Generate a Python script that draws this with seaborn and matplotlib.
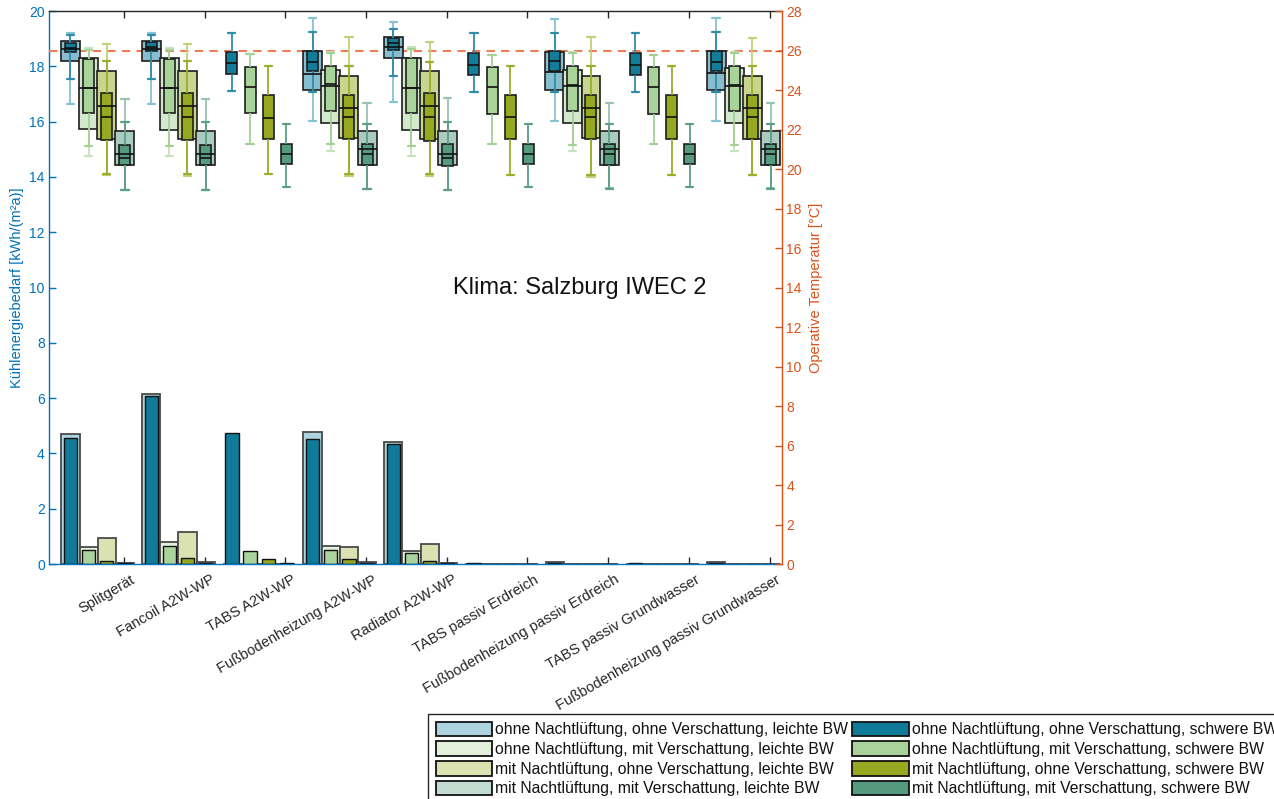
import numpy as np
import pandas as pd
import matplotlib
matplotlib.use("Agg")
import matplotlib.pyplot as plt
import matplotlib.transforms as mtransforms
import seaborn as sns
from matplotlib.patches import Patch

# ---------------- data ----------------
categories = ["Splitgerät", "Fancoil A2W-WP", "TABS A2W-WP", "Fußbodenheizung A2W-WP",
              "Radiator A2W-WP", "TABS passiv Erdreich", "Fußbodenheizung passiv Erdreich",
              "TABS passiv Grundwasser", "Fußbodenheizung passiv Grundwasser"]

labels_L = ["ohne Nachtlüftung, ohne Verschattung, leichte BW",
            "ohne Nachtlüftung, mit Verschattung, leichte BW",
            "mit Nachtlüftung, ohne Verschattung, leichte BW",
            "mit Nachtlüftung, mit Verschattung, leichte BW"]
labels_S = ["ohne Nachtlüftung, ohne Verschattung, schwere BW",
            "ohne Nachtlüftung, mit Verschattung, schwere BW",
            "mit Nachtlüftung, ohne Verschattung, schwere BW",
            "mit Nachtlüftung, mit Verschattung, schwere BW"]

# cooling energy demand [kWh/(m²a)]
bar_L1 = [4.69, 6.15, 0.00, 4.78, 4.42, 0.00, 0.07, 0.00, 0.08]
bar_L2 = [0.60, 0.78, 0.00, 0.65, 0.48, 0.00, 0.00, 0.00, 0.00]
bar_L3 = [0.95, 1.15, 0.00, 0.60, 0.71, 0.00, 0.00, 0.00, 0.00]
bar_L4 = [0.04, 0.06, 0.00, 0.06, 0.04, 0.00, 0.00, 0.00, 0.00]
bar_S1 = [4.55, 6.08, 4.73, 4.53, 4.33, 0.05, 0.05, 0.05, 0.05]
bar_S2 = [0.51, 0.65, 0.48, 0.51, 0.39, 0.00, 0.00, 0.00, 0.00]
bar_S3 = [0.12, 0.21, 0.18, 0.17, 0.12, 0.00, 0.00, 0.00, 0.00]
bar_S4 = [0.02, 0.04, 0.03, 0.03, 0.03, 0.00, 0.00, 0.00, 0.00]

# operative temperature [°C]: whisker low, Q1, median, Q3, whisker high
box_L1 = [[23.3, 25.49, 26.1, 26.47, 26.87], [23.3, 25.49, 26.1, 26.47, 26.87], None,
          [22.41, 24.01, 24.82, 25.96, 27.63], [23.38, 25.62, 26.2, 26.70, 27.46], None,
          [22.41, 24.01, 24.9, 25.91, 27.60], None, [22.41, 24.01, 24.85, 25.96, 27.63]]
box_L2 = [[20.66, 22.04, 24.1, 25.61, 26.13], [20.66, 21.98, 24.1, 25.61, 26.13], None,
          [20.89, 22.32, 24.2, 25.02, 25.91], [20.66, 22.0, 24.1, 25.61, 26.16], None,
          [20.89, 22.32, 24.2, 25.02, 25.91], None, [20.89, 22.32, 24.2, 25.10, 25.91]]
box_L3 = [[19.68, 21.53, 23.21, 24.95, 26.33], [19.65, 21.50, 23.21, 24.95, 26.33], None,
          [19.63, 21.57, 23.10, 24.73, 26.70], [19.63, 21.50, 23.20, 24.95, 26.42], None,
          [19.58, 21.57, 23.08, 24.70, 26.70], None, [19.68, 21.53, 23.08, 24.70, 26.65]]
box_L4 = [[18.92, 20.22, 20.77, 21.92, 23.55], [18.95, 20.18, 20.77, 21.92, 23.55], None,
          [19.00, 20.22, 20.99, 21.92, 23.35], [18.92, 20.18, 20.77, 21.90, 23.59], None,
          [19.04, 20.22, 20.99, 21.92, 23.33], None, [19.04, 20.22, 20.99, 21.92, 23.33]]
box_S1 = [[24.56, 25.91, 26.13, 26.38, 26.79], [24.56, 25.95, 26.2, 26.42, 26.79],
          [23.97, 24.82, 25.36, 25.91, 26.87], [23.90, 24.95, 25.41, 25.96, 26.92],
          [24.73, 26.04, 26.37, 26.62, 27.09], [23.89, 24.77, 25.29, 25.89, 26.87],
          [23.90, 24.95, 25.46, 25.96, 26.89], [23.89, 24.77, 25.29, 25.89, 26.87],
          [23.90, 24.95, 25.41, 25.96, 26.92]]
box_S2 = [[21.14, 22.83, 24.11, 25.57, 26.05], [21.14, 22.83, 24.11, 25.57, 26.05],
          [21.28, 22.83, 24.14, 25.15, 25.83], [21.28, 22.96, 24.31, 25.19, 25.85],
          [21.14, 22.84, 24.11, 25.61, 26.10], [21.28, 22.79, 24.14, 25.15, 25.79],
          [21.24, 22.96, 24.27, 25.19, 25.85], [21.28, 22.79, 24.14, 25.15, 25.79],
          [21.24, 22.96, 24.27, 25.19, 25.85]]
box_S3 = [[19.76, 21.45, 22.63, 23.85, 25.46], [19.76, 21.45, 22.63, 23.85, 25.46],
          [19.73, 21.53, 22.59, 23.75, 25.19], [19.73, 21.53, 22.63, 23.75, 25.20],
          [19.73, 21.41, 22.63, 23.85, 25.44], [19.68, 21.53, 22.63, 23.75, 25.20],
          [19.71, 21.53, 22.63, 23.75, 25.20], [19.71, 21.53, 22.63, 23.75, 25.20],
          [19.71, 21.53, 22.63, 23.75, 25.20]]
box_S4 = [[18.92, 20.18, 20.55, 21.24, 22.37], [18.92, 20.18, 20.55, 21.24, 22.37],
          [19.09, 20.27, 20.77, 21.29, 22.29], [19.00, 20.22, 20.74, 21.26, 22.29],
          [18.92, 20.15, 20.55, 21.26, 22.37], [19.09, 20.27, 20.77, 21.28, 22.29],
          [19.00, 20.22, 20.74, 21.26, 22.29], [19.09, 20.27, 20.77, 21.28, 22.29],
          [19.00, 20.22, 20.74, 21.26, 22.29]]

comfort_limit = 26

# ---------------- style ----------------
bar_col_L = ["#acd3de", "#e3f0dc", "#dae2b1", "#c3dcd2"]
bar_col_S = ["#0f7b98", "#a9d39b", "#95a820", "#559a7e"]
box_col_L = ["#88bdcf", "#d3e8cc", "#c8d58e", "#aacbbf"]
box_col_S = ["#137c98", "#a8d49a", "#95a81f", "#559b7d"]
wh_col_L = ["#86c2d4", "#c6e3bd", "#bfd27a", "#97c3b3"]
wh_col_S = ["#2f8da8", "#a3d095", "#9aae2c", "#5d9f83"]
LEFT_C = "#0072BD"
RIGHT_C = "#D95319"
DARK = "#262626"

sns.set_theme(style="white")
plt.rcParams["font.family"] = ["Liberation Sans", "DejaVu Sans"]

fig = plt.figure(figsize=(12.74, 7.99), dpi=100)
ax = fig.add_axes([49 / 1274, 1 - 564 / 799, (782 - 49) / 1274, (564 - 11) / 799])
ax2 = ax.twinx()

ticks = np.arange(1, len(categories) + 1)
slot_offset = [-0.663, -0.438, -0.213, 0.012]


def draw_bars(vals, slot, color, width, edge, lw):
    df = pd.DataFrame({"x": ticks + slot_offset[slot], "y": vals})
    sns.barplot(data=df, x="x", y="y", native_scale=True, width=width, color=color,
                saturation=1, edgecolor=edge, linewidth=lw, errorbar=None, ax=ax)


def draw_boxes(stats, slot, face, wcol, width, capw):
    rows = []
    for i, s in enumerate(stats):
        if s is None:
            continue
        for v in s:
            rows.append((ticks[i] + slot_offset[slot], v))
    df = pd.DataFrame(rows, columns=["x", "y"])
    sns.boxplot(data=df, x="x", y="y", native_scale=True, orient="x", width=width,
                whis=(0, 100), color=face, saturation=1, linecolor="#1e1e1e",
                linewidth=1.2, showfliers=False,
                whiskerprops={"color": wcol, "linewidth": 1.3},
                capprops={"color": wcol, "linewidth": 1.6},
                medianprops={"color": "#111111", "linewidth": 1.2},
                capwidths=capw, ax=ax2)


bars_L = [bar_L1, bar_L2, bar_L3, bar_L4]
bars_S = [bar_S1, bar_S2, bar_S3, bar_S4]
boxes_L = [box_L1, box_L2, box_L3, box_L4]
boxes_S = [box_S1, box_S2, box_S3, box_S4]

for j in range(4):
    draw_bars(bars_L[j], j, bar_col_L[j], 0.225, "#4a4a4a", 1.3)
for j in range(4):
    draw_bars(bars_S[j], j, bar_col_S[j], 0.165, "#111111", 1.0)

ax2.axhline(comfort_limit, color="#ee7c55", ls=(0, (4, 3)), lw=1.5, zorder=0.5)
for j in range(4):
    draw_boxes(boxes_L[j], j, box_col_L[j], wh_col_L[j], 0.235, 0.09)
for j in range(4):
    draw_boxes(boxes_S[j], j, box_col_S[j], wh_col_S[j], 0.136, 0.09)

# ---------------- axes ----------------
ax.set_ylim(0, 20)
ax.set_yticks(np.arange(0, 21, 2))
ax2.set_ylim(0, 28)
ax2.set_yticks(np.arange(0, 29, 2))
ax.set_xlim(0.071, 9.154)
ax.set_xticks(ticks)
ax.set_xlabel("")
ax2.set_xlabel("")

ax.set_ylabel("Kühlenergiebedarf [kWh/(m²a)]", color=LEFT_C, fontsize=10.5, labelpad=4)
ax2.set_ylabel("Operative Temperatur [°C]", color=RIGHT_C, fontsize=10.5, labelpad=5)

ax.tick_params(axis="y", direction="in", length=5, width=1, color=LEFT_C,
               labelcolor=LEFT_C, labelsize=10, pad=3, left=True, right=False)
ax2.tick_params(axis="y", direction="in", length=5, width=1, color=RIGHT_C,
                labelcolor=RIGHT_C, labelsize=10, pad=3, left=False, right=True)
ax.tick_params(axis="x", direction="in", length=5, width=1, color=DARK,
               top=True, bottom=True, pad=4)

ax.set_xticklabels(categories, rotation=30, ha="right", va="top", rotation_mode="anchor",
                   fontsize=10.5, color=DARK)
shift = mtransforms.ScaledTranslation(6 / 100, -3 / 100, fig.dpi_scale_trans)
for lab in ax.xaxis.get_majorticklabels():
    lab.set_transform(lab.get_transform() + shift)

ax.spines["top"].set_color(DARK)
ax.spines["bottom"].set_color(LEFT_C)
ax.spines["left"].set_color(LEFT_C)
ax.spines["right"].set_visible(False)
for sp in ["top", "bottom", "left"]:
    ax2.spines[sp].set_visible(False)
ax2.spines["right"].set_color(RIGHT_C)
for a in (ax, ax2):
    for sp in a.spines.values():
        sp.set_linewidth(1.0)
ax.grid(False)
ax2.grid(False)

ax.text(0.724, 0.50, "Klima: Salzburg IWEC 2", transform=ax.transAxes, ha="center",
        va="center", fontsize=17, color="#111111")

# ---------------- legend ----------------
handles = [Patch(facecolor=bar_col_L[j], edgecolor="#111111", lw=1.3, label=labels_L[j])
           for j in range(4)]
handles += [Patch(facecolor=bar_col_S[j], edgecolor="#111111", lw=1.3, label=labels_S[j])
            for j in range(4)]
leg = fig.legend(handles=handles, ncol=2, loc="upper left",
                 bbox_to_anchor=(428 / 1274, 1 - 714 / 799), frameon=True, fancybox=False,
                 edgecolor=DARK, fontsize=11.3, handlelength=3.6, handleheight=1.05,
                 labelspacing=0.25, handletextpad=0.2, columnspacing=0.25, borderpad=0.5,
                 borderaxespad=0, framealpha=1)
leg.get_frame().set_linewidth(1.0)
for t in leg.get_texts():
    t.set_color("#111111")

fig.savefig("out.png", dpi=100)
